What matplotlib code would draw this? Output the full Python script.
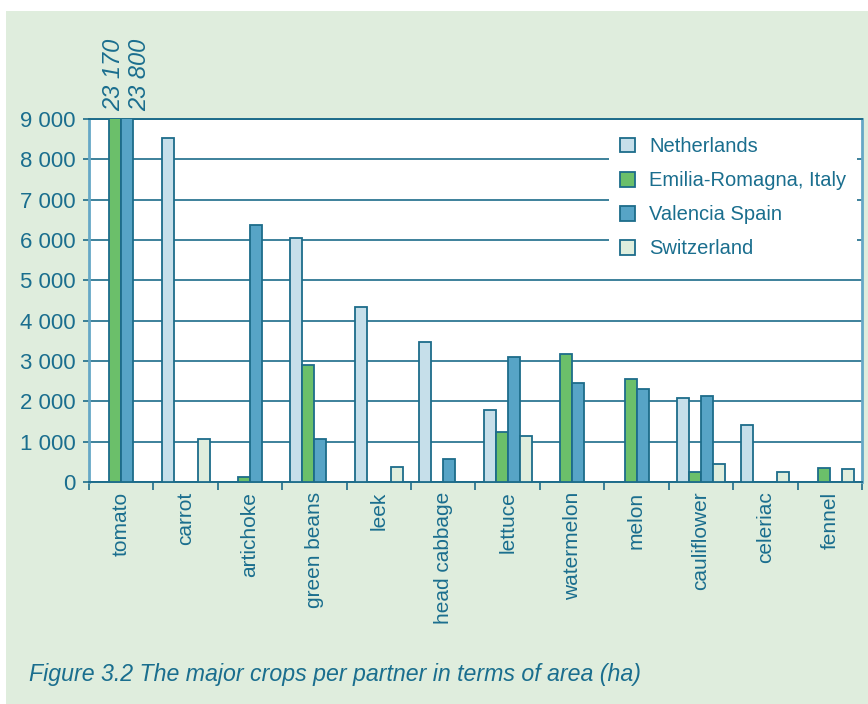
import numpy as np
import matplotlib.pyplot as plt
from matplotlib.patches import Rectangle

crops = ["tomato", "carrot", "artichoke", "green beans", "leek", "head cabbage",
         "lettuce", "watermelon", "melon", "cauliflower", "celeriac", "fennel"]
netherlands = [0, 8540, 0, 6060, 4340, 3480, 1780, 0, 0, 2090, 1420, 0]
emilia = [23170, 0, 130, 2900, 0, 0, 1240, 3170, 2550, 250, 0, 350]
valencia = [23800, 0, 6370, 1060, 0, 560, 3090, 2450, 2310, 2130, 0, 0]
switzerland = [0, 1060, 0, 0, 380, 0, 1140, 0, 0, 450, 250, 310]
series_names = ["Netherlands", "Emilia-Romagna, Italy", "Valencia Spain", "Switzerland"]
y_ticks = [0, 1000, 2000, 3000, 4000, 5000, 6000, 7000, 8000, 9000]

font = "Liberation Sans"
text_col = "#1a6e8e"
edge_col = "#1d6c8a"
side_col = "#66a8c6"
colors = ["#c6dfea", "#6bbf6a", "#57a4c6", "#dfeedd"]
bg = "#dfeddd"

fig = plt.figure(figsize=(8.68, 7.04), dpi=100)
fig.patch.set_facecolor("white")
fig.patches.append(Rectangle((6 / 868, 0), 1, 693 / 704, transform=fig.transFigure,
                             facecolor=bg, edgecolor="none", zorder=-10))

ax = fig.add_axes([89 / 868, 1 - 482 / 704, 773 / 868, 363 / 704])
ax.set_facecolor("white")

x = np.arange(len(crops))
w = 0.186
data = [netherlands, emilia, valencia, switzerland]
for i, (vals, c, name) in enumerate(zip(data, colors, series_names)):
    ax.bar(x + (i - 1.5) * w, vals, width=w, color=c, edgecolor=edge_col,
           linewidth=1.3, label=name, zorder=3)

ax.set_xlim(-0.5, len(crops) - 0.5)
ax.set_ylim(0, 9000)

ax.set_yticks(y_ticks)
ax.set_yticklabels([f"{v:,}".replace(",", " ") for v in y_ticks],
                   family=font, fontsize=16, color=text_col)
ax.tick_params(axis="y", length=4.5, width=1.2, color=edge_col, pad=5)
ax.yaxis.grid(True, color=edge_col, linewidth=1.2, zorder=1)
ax.set_axisbelow(True)

ax.set_xticks(x)
ax.set_xticklabels(crops, rotation=90, family=font, fontsize=15,
                   color=text_col, va="top")
ax.tick_params(axis="x", which="major", length=0, pad=7)
ax.set_xticks(np.arange(len(crops) + 1) - 0.5, minor=True)
ax.tick_params(axis="x", which="minor", length=6, width=1.2, color=edge_col)

for s in ["top", "bottom"]:
    ax.spines[s].set_color(edge_col)
    ax.spines[s].set_linewidth(1.4)
for s in ["left", "right"]:
    ax.spines[s].set_color(side_col)
    ax.spines[s].set_linewidth(2)

# clipped tomato values, written above the axes
for i, v, dx in [(1, emilia[0], -1), (2, valencia[0], 9)]:
    ax.annotate(f"{v:,}".replace(",", " "), xy=(x[0] + (i - 1.5) * w, 9000),
                xytext=(dx, 6), textcoords="offset points", rotation=90,
                ha="center", va="bottom", family=font, style="italic",
                fontsize=17, color=text_col, annotation_clip=False)

leg = ax.legend(loc="upper left", bbox_to_anchor=(609 / 868, 1 - 126 / 704),
                bbox_transform=fig.transFigure, borderaxespad=0, frameon=True,
                fancybox=False, framealpha=1, edgecolor="none", facecolor="white",
                prop={"family": font, "size": 14.5}, handlelength=0.75,
                handleheight=0.75, handletextpad=0.7, labelspacing=0.75,
                borderpad=0.55)
leg.set_zorder(5)
for t in leg.get_texts():
    t.set_color(text_col)

fig.text(29 / 868, 1 - 681 / 704, "Figure 3.2 The major crops per partner in terms of area (ha)",
         family=font, style="italic", fontsize=16.7, color=text_col, va="baseline")

fig.savefig("out.png", dpi=100)
